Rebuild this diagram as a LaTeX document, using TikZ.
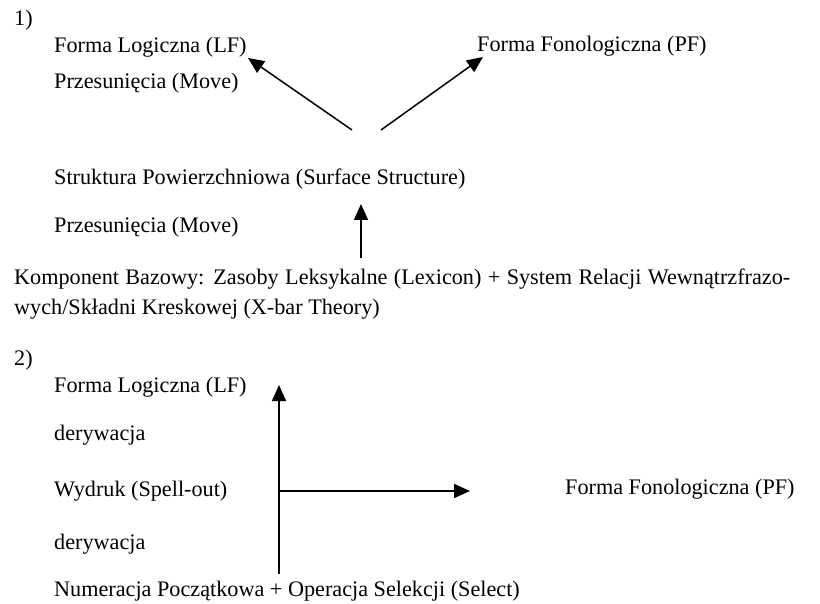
\documentclass[tikz,border=0pt]{standalone}
\usepackage{fontspec}
\setmainfont{Liberation Serif}
\usetikzlibrary{arrows.meta}
\begin{document}
\begin{tikzpicture}[x=1pt,y=-1pt,
  txt/.style={anchor=base west,inner sep=0pt,font=\fontsize{22.2}{26}\selectfont},
  arr/.style={line width=1.5pt,-{Triangle[length=16pt,width=14pt]}},
  ln/.style={line width=1.5pt}]
\useasboundingbox (0,0) rectangle (820,604);
% Part 1
\node[txt] (n1) at (14,26) {1)};
\node[txt] (lf1) at (54,53) {Forma Logiczna (LF)};
\node[txt] (pf1) at (477,52) {Forma Fonologiczna (PF)};
\node[txt] (mv1) at (54,89) {Przesunięcia (Move)};
\node[txt] (ss) at (54,185) {Struktura Powierzchniowa (Surface Structure)};
\node[txt] (mv2) at (54,233) {Przesunięcia (Move)};
\node[txt] (base1) at (14,285) {\makebox[776pt][s]{Komponent Bazowy: Zasoby Leksykalne (Lexicon) + System Relacji Wewnątrzfrazo-}};
\node[txt] (base2) at (14,315) {wych/Składni Kreskowej (X-bar Theory)};
\coordinate (sL) at (352,130);
\coordinate (tL) at (248,58);
\coordinate (sR) at (381,130);
\coordinate (tR) at (483,57);
\coordinate (vB) at (361,258);
\coordinate (vT) at (361,204);
\draw[arr] (sL) -- (tL);
\draw[arr] (sR) -- (tR);
\draw[arr] (vB) -- (vT);
% Part 2
\node[txt] (n2) at (14,365) {2)};
\node[txt] (lf2) at (54,392) {Forma Logiczna (LF)};
\node[txt] (d1) at (54,440) {derywacja};
\node[txt] (so) at (54,496) {Wydruk (Spell-out)};
\node[txt] (pf2) at (565,494) {Forma Fonologiczna (PF)};
\node[txt] (d2) at (54,549) {derywacja};
\node[txt] (num) at (54,596) {Numeracja Początkowa + Operacja Selekcji (Select)};
\coordinate (b2) at (279,574);
\coordinate (m2) at (279,491);
\coordinate (t2) at (279,385);
\coordinate (h2) at (470,491);
\draw[ln] (b2) -- (m2);
\draw[arr] (m2) -- (t2);
\draw[arr] (m2) -- (h2);
\end{tikzpicture}
\end{document}
